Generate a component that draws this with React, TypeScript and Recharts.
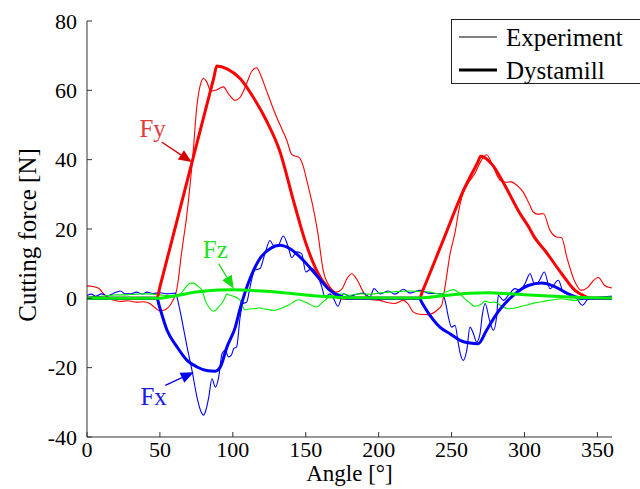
import React from 'react';
import { LineChart, Line, XAxis, YAxis, ReferenceLine, ReferenceDot } from 'recharts';

const FONT = "'Liberation Serif', 'DejaVu Serif', 'Noto Serif', 'Times New Roman', Times, serif";

const xTicks = [0, 50, 100, 150, 200, 250, 300, 350];
const yTicks = [-40, -20, 0, 20, 40, 60, 80];

type Pt = [number, number];

// measured signals (angle in deg, force in N)
const expFy: Pt[] = [
  [0, 3.6], [4, 3.4], [8, 2.9], [11, 1.5], [14, 0.3], [18, -0.5], [23, -0.9], [28, -0.7], [34, -1.1],
  [39, -1.0], [43, -1.5], [46, -2.5], [50, -3.6], [54, -3.2], [57, -2], [59, -0.5], [60.6, 0.9],
  [62.5, 5], [64.5, 12], [66.3, 17.5], [68, 22.5], [70.5, 32], [72.9, 42.7], [75, 54], [78, 62],
  [80, 63.4], [82, 62.5], [85, 59.8], [88, 60], [91, 60.6], [93.5, 61], [97, 59], [101.5, 57.1],
  [105, 58], [109, 61.5], [113, 65.5], [116.4, 66.5], [119, 64.5], [123, 60], [127, 55.5], [130, 52.3],
  [134, 48.5], [137, 45.6], [140.4, 41.5], [143, 41], [145, 40.8], [148, 38.5], [150.7, 34], [155, 26.3],
  [158, 19.6], [162, 8], [166.6, 3.3], [171, 1.8], [175, 2.8], [178, 5.5], [181.5, 7.1], [185, 5.5],
  [189.5, 1.8], [194, -0.3], [201, -0.6], [206, -1.2], [211, -1.5], [216.7, -0.6], [220, -1.5],
  [223.6, -3.9], [228, -4.6], [233.8, -4.7], [239.8, -3.5], [243.2, -2], [245.5, 3.3], [249, 12.9],
  [252.4, 19], [255, 25.5], [257, 29.2], [261.5, 33.3], [266, 36], [270, 39.5], [274, 41.4], [278, 38.5],
  [283, 34.2], [287, 33.5], [291, 33.6], [295, 32.5], [299, 30.7], [303, 27.5], [306, 24.9], [309, 24.3],
  [313, 24.4], [317.5, 19.6], [320, 18.2], [322, 17.7], [325.5, 17.5], [329, 11.9], [334.6, 4.7],
  [339, 2.3], [343.8, 3.3], [347, 5], [350.6, 6], [355, 3.7], [358.6, 3.1], [360, 3],
];

const expFx: Pt[] = [
  [0, 0.8], [3, 1.2], [6, 0.6], [10, 1.3], [14, 0.7], [18, 1.4], [23, 2.1], [26, 1.3], [30, 1.3],
  [34, 1.8], [38, 1.2], [41, 1.8], [45, 1.4], [50, 1.6], [55, 1.3], [60.5, 1.5], [63, -2], [65.1, -6.3],
  [68.6, -14], [72, -20.8], [75.4, -28.5], [78, -32.5], [80, -33.7], [82, -31.5], [83.5, -28.5],
  [85.7, -23.2], [88, -25.6], [90.3, -22.7], [92.6, -16], [94.8, -15], [97, -16.9], [99, -16.4],
  [100.6, -14.5], [102.6, -14], [105, -5.4], [107, -1.5], [109.5, -1.1], [111.8, 3.3], [115, 8.1],
  [118.6, 8.6], [122, 12.9], [125.5, 16.7], [127.8, 15.3], [131, 15.3], [134.6, 18], [138, 14.8],
  [140.4, 11.7], [143.8, 13.4], [147.2, 12.9], [150, 7.6], [154, 8.6], [157.5, 7.1], [161, 3.3],
  [163.2, 0.4], [166.6, 1.3], [169, 0], [172, -2.3], [175.8, 1.3], [180.3, 0.6], [185, 1.2],
  [189.5, 1.5], [194, 0.4], [196.8, 2.8], [201, 1.3], [206.6, 2.1], [211, 1.2], [217, 2.6],
  [221.5, 1.5], [228.3, 2.3], [234, 1.5], [243.2, 1.3], [245.5, -0.6], [247.8, -5.4], [250, -8.3],
  [252.4, -7.8], [254.6, -13], [256, -16], [258, -17.9], [260.4, -15], [262.6, -8.3], [265, -10.2],
  [267.2, -12.6], [269.5, -10.2], [271, -5], [273, -1.5], [276, -6.3], [278.6, -9.2], [281, -4.9],
  [282, 0.9], [285.5, -0.6], [289, 0.9], [293.5, 2.8], [297, 2.3], [300.3, 4.2], [303.8, 7.1],
  [307, 4], [310, 5], [313.6, 7.6], [317.5, 2.8], [323.2, 5.2], [326.6, 1.8], [331.2, 0.9],
  [335.8, -0.1], [339.7, -2], [343.8, -0.1], [348.4, 0.2], [353, 0.4], [358.6, 0.6], [360, 0.6],
];

const expFz: Pt[] = [
  [0, 0.3], [5, 0.5], [10, 0.6], [15, 0.8], [20, 1], [25, 1], [30, 1.1], [35, 1.2], [40, 1.3],
  [45, 1.2], [50, 1], [55, 0.8], [60, 0.6], [64, 1.3], [66.5, 2.5], [68.6, 3.7], [71, 4.4], [73, 4.4],
  [76.6, 3.3], [78.9, 2.3], [81.1, -0.6], [83.5, -2.5], [86.9, -3.7], [90.3, -2.5], [93.7, -0.6],
  [96, 1.3], [98, 0.9], [100.6, 0.6], [105, -0.6], [108.3, -3.3], [112, -3], [115, -3], [118, -2.7],
  [120.7, -3], [124, -3.2], [127.8, -3.5], [132.3, -3], [138, -2], [145, -0.4], [148, -0.8],
  [151.7, -1.5], [157.5, -2.5], [161, -1.3], [164.4, -0.1], [171, 1.2], [175, 1.2], [180, 0.9],
  [187, 1.3], [194, 1.2], [200, 1.5], [207.8, 1.8], [214, 2], [221.5, 2.1], [228, 2], [235.2, 1.8],
  [242, 1.2], [246, 1.8], [251.2, 2.5], [255.8, 1.2], [260.4, -0.6], [263, -1.5], [266, -2.3],
  [270, -1.8], [273, -0.8], [276, -1.2], [279.8, -1.1], [284, -2.2], [289, -3], [294, -2.8],
  [298, -2.3], [302, -1.9], [307, -1.3], [312, -1], [316.3, -0.6], [320, -0.4], [325.5, -0.1],
  [330, -0.4], [334.6, -0.6], [339, -0.3], [343.8, -0.1], [350, 0], [358.6, 0.2], [360, 0.2],
];

// Dystamill simulation
const simFy: Pt[] = [
  [0, 0], [48, 0], [50, 3.3], [60, 19.6], [71, 37.6], [80, 52.3], [87, 63.7], [89, 67], [96, 66.2],
  [105, 63.4], [114, 58], [123, 51.3], [132, 42.7], [142, 27.5], [150, 16], [160, 6], [168, 2],
  [175, 0], [228, 0], [230, 2], [244, 16.5], [258, 31], [268, 39.3], [270, 41], [278, 38.5], [286, 33],
  [297, 24.4], [303, 20.5], [307, 17.5], [314, 13.8], [325.5, 7.1], [334.6, 2.3], [341.5, 0.6],
  [345, 0], [360, 0],
];

const simFx: Pt[] = [
  [0, 0], [48, 0], [49.5, -2.1], [54.9, -9.2], [61.7, -14], [68.6, -17.9], [75.4, -19.8], [82, -20.8],
  [88, -21], [91.4, -19.8], [96, -14], [101.7, -8.3], [105, -3], [111.8, 5.7], [118.6, 11.5],
  [125.5, 14.3], [132.3, 15.3], [139.2, 14.3], [148.3, 11], [157.5, 6.6], [166.6, 2.3], [173.5, 0.6],
  [178, 0], [228, 0], [229.5, -1.1], [235.2, -4.9], [242, -8.3], [248.9, -10.2], [255.8, -12.1],
  [262.6, -12.9], [268.3, -13.1], [274, -9.2], [281, -4.4], [286.6, -1.5], [293.5, 1.3], [302.6, 3.7],
  [311.8, 4.4], [321, 3.3], [330, 1.3], [337, 0.2], [340, 0], [360, 0],
];

const simFz: Pt[] = [
  [0, 0], [48, 0], [60, 0.7], [75, 1.8], [90, 2.4], [100, 2.5], [120, 2.1], [140, 1.4], [160, 0.6],
  [178, 0.2], [228, 0.1], [245, 0.8], [262, 1.5], [275, 1.6], [290, 1.3], [310, 0.8], [330, 0.4],
  [345, 0.2], [360, 0.1],
];

const toRows = (pts: Pt[]) => pts.map(([angle, value]) => ({ angle, value }));

const series = [
  { key: 'expFy', pts: expFy, color: '#ff0000', width: 1.1 },
  { key: 'expFx', pts: expFx, color: '#0000ff', width: 1.1 },
  { key: 'expFz', pts: expFz, color: '#00ee00', width: 1.1 },
  { key: 'simFy', pts: simFy, color: '#ff0000', width: 3 },
  { key: 'simFx', pts: simFx, color: '#0000ff', width: 3 },
  { key: 'simFz', pts: simFz, color: '#00ee00', width: 3 },
];

// annotation arrows, in data units
const notes = [
  { label: 'Fy', text: '#e23b3b', arrow: '#d40000', tx: 45, ty: 46.5, x0: 51.2, y0: 45.1, x1: 71.8, y1: 39.3 },
  { label: 'Fz', text: '#22e022', arrow: '#11dd11', tx: 88, ty: 11.7, x0: 90.3, y0: 10, x1: 100.6, y1: 2.8 },
  { label: 'Fx', text: '#1a1aee', arrow: '#0000ee', tx: 45.7, ty: -30.9, x0: 53.7, y0: -25.1, x1: 73.2, y1: -21.3 },
];

const Arrow = (props: any) => {
  const { x1, y1, x2, y2, stroke } = props;
  const dx = x2 - x1;
  const dy = y2 - y1;
  const len = Math.sqrt(dx * dx + dy * dy) || 1;
  const ux = dx / len;
  const uy = dy / len;
  const head = 13;
  const half = 5.5;
  const bx = x2 - ux * head;
  const by = y2 - uy * head;
  return (
    <g>
      <line x1={x1} y1={y1} x2={bx} y2={by} stroke={stroke} strokeWidth={1.3} />
      <polygon
        points={`${x2},${y2} ${bx - uy * half},${by + ux * half} ${bx + uy * half},${by - ux * half}`}
        fill={stroke}
      />
    </g>
  );
};

const YTitle = ({ viewBox }: any) => {
  const cx = viewBox.x + 27;
  const cy = viewBox.y + viewBox.height / 2 + 6;
  return (
    <text x={cx} y={cy} transform={`rotate(-90, ${cx}, ${cy})`} textAnchor="middle"
      dominantBaseline="central" style={{ fontFamily: FONT }} fontSize={25} fill="#000">
      Cutting force [N]
    </text>
  );
};

const XTitle = ({ viewBox }: any) => (
  <text x={viewBox.x + viewBox.width / 2} y={viewBox.y + 44} textAnchor="middle"
    style={{ fontFamily: FONT }} fontSize={23} fill="#000">
    Angle [°]
  </text>
);

const LegendBox = () => (
  <div style={{ position: 'absolute', left: 451, top: 19, width: 200, height: 65, background: '#fff',
    border: '1px solid #222', boxSizing: 'border-box' }}>
    <svg width={200} height={65} style={{ display: 'block' }}>
      <line x1={7} y1={17} x2={45} y2={17} stroke="#000" strokeWidth={1} />
      <text x={54} y={26} style={{ fontFamily: FONT }} fontSize={25} fill="#000">Experiment</text>
      <line x1={7} y1={50} x2={45} y2={50} stroke="#000" strokeWidth={3.2} />
      <text x={54} y={59} style={{ fontFamily: FONT }} fontSize={25} fill="#000">Dystamill</text>
    </svg>
  </div>
);

const tickStyle = { fill: '#000', fontSize: 22, style: { fontFamily: FONT } };

export default function App() {
  return (
    <div style={{ position: 'absolute', left: 0, top: 0, width: 640, height: 489, overflow: 'hidden', background: '#fff', fontFamily: FONT }}>
      <LineChart width={640} height={489} margin={{ top: 21, right: 28, bottom: 12, left: 0 }}
        style={{ fontFamily: FONT }}>
        <XAxis dataKey="angle" type="number" domain={[0, 360]} ticks={xTicks} allowDuplicatedCategory={false}
          height={40} stroke="#333" tickSize={-5} tickMargin={9}
          tick={tickStyle} label={<XTitle />} />
        <YAxis type="number" domain={[-40, 80]} ticks={yTicks} width={87} stroke="#333"
          tickSize={-5} tickMargin={15} tick={tickStyle}
          label={<YTitle />} />
        {series.map((s) => (
          <Line key={s.key} data={toRows(s.pts)} dataKey="value" type="monotone" dot={false}
            stroke={s.color} strokeWidth={s.width} isAnimationActive={false} legendType="none" />
        ))}
        {notes.map((n) => (
          <ReferenceLine key={`a-${n.label}`} segment={[{ x: n.x0, y: n.y0 }, { x: n.x1, y: n.y1 }]}
            stroke={n.arrow} shape={Arrow} ifOverflow="visible" />
        ))}
        {notes.map((n) => (
          <ReferenceDot key={`t-${n.label}`} x={n.tx} y={n.ty} r={0} ifOverflow="visible"
            shape={(p: any) => (
              <text x={p.cx} y={p.cy} textAnchor="middle" style={{ fontFamily: FONT }} fontSize={25} fill={n.text}>
                {n.label}
              </text>
            )} />
        ))}
      </LineChart>
      <LegendBox />
    </div>
  );
}
